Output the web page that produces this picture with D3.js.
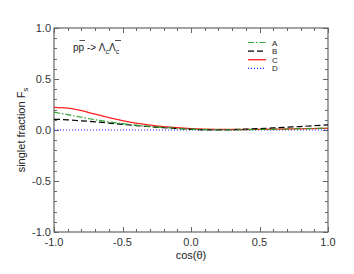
<!DOCTYPE html>
<html>
<head>
<meta charset="utf-8">
<script src="https://cdn.jsdelivr.net/npm/d3@7"></script>
<style>
body { margin: 0; background: #fff; }
text { font-family: "Liberation Sans", Arial, sans-serif; }
</style>
</head>
<body>
<svg width="354" height="274"></svg>
<script>
// data
var cosTheta = [-1, -0.9, -0.8, -0.7, -0.6, -0.5, -0.4, -0.3, -0.2, -0.1, 0, 0.1, 0.2, 0.3, 0.4, 0.5, 0.6, 0.7, 0.8, 0.9, 1]
var seriesA = [0.175, 0.15, 0.125, 0.1, 0.08, 0.062, 0.047, 0.035, 0.025, 0.016, 0.009, 0.004, 0.002, 0.002, 0.003, 0.005, 0.007, 0.01, 0.013, 0.016, 0.02]
var seriesB = [0.105, 0.1, 0.09, 0.08, 0.068, 0.055, 0.043, 0.032, 0.022, 0.014, 0.007, 0.002, 0.001, 0.003, 0.008, 0.014, 0.02, 0.027, 0.034, 0.042, 0.05]
var seriesC = [0.222, 0.215, 0.19, 0.155, 0.122, 0.093, 0.068, 0.048, 0.033, 0.022, 0.014, 0.009, 0.006, 0.005, 0.005, 0.006, 0.008, 0.01, 0.012, 0.014, 0.016]
var seriesD = [0, 0, 0, 0, 0, 0, 0, 0, 0, 0, 0, 0, 0, 0, 0, 0, 0, 0, 0, 0, 0]
var names = ['A', 'B', 'C', 'D']
var xTicks = [-1, -0.5, 0, 0.5, 1]
var yTicks = [-1, -0.5, 0, 0.5, 1]

var styles = {
    A: {color: '#2ca02c', dash: '6,2,1.5,2', width: 1.2},
    B: {color: '#000', dash: '6,3', width: 1.2},
    C: {color: '#ff2020', dash: null, width: 1.3},
    D: {color: '#2020ff', dash: '1,2', width: 1.2}
}
var allSeries = {A: seriesA, B: seriesB, C: seriesC, D: seriesD}

var L = 54, R = 328, T = 28, B = 232
var svg = d3.select('svg')
var x = d3.scaleLinear().domain([-1, 1]).range([L, R])
var y = d3.scaleLinear().domain([-1, 1]).range([B, T])
var axisCol = '#666'

// minor ticks every 0.1
var minor = d3.range(-1, 1.0001, 0.1)
var ticks = svg.append('g').attr('stroke', axisCol).attr('stroke-width', 1)
minor.forEach(function(v) {
    var major = xTicks.some(function(t) { return Math.abs(t - v) < 1e-6 })
    var len = major ? 5 : 3
    var px = Math.round(x(v)) + 0.5
    var py = Math.round(y(v)) + 0.5
    ticks.append('line').attr('x1', px).attr('x2', px).attr('y1', B).attr('y2', B - len)
    ticks.append('line').attr('x1', px).attr('x2', px).attr('y1', T).attr('y2', T + len)
    ticks.append('line').attr('y1', py).attr('y2', py).attr('x1', L).attr('x2', L + len)
    ticks.append('line').attr('y1', py).attr('y2', py).attr('x1', R).attr('x2', R - len)
})
svg.append('rect').attr('x', L).attr('y', T).attr('width', R - L).attr('height', B - T)
    .attr('fill', 'none').attr('stroke', axisCol).attr('stroke-width', 1.2)

// plain hyphen for negatives, like the original
var fmt = function(v) { return d3.format('.1f')(v).replace('\u2212', '-') }
xTicks.forEach(function(v) {
    svg.append('text').attr('x', x(v)).attr('y', B + 14).attr('text-anchor', 'middle')
	.attr('font-size', 11).attr('fill', '#333').text(fmt(v))
})
yTicks.forEach(function(v) {
    svg.append('text').attr('x', L - 3).attr('y', y(v) + 4).attr('text-anchor', 'end')
	.attr('font-size', 11).attr('fill', '#333').text(fmt(v))
})

svg.append('text').attr('x', (L + R) / 2).attr('y', B + 27).attr('text-anchor', 'middle')
    .attr('font-size', 11).attr('fill', '#222').text('cos(θ)')
var yl = svg.append('text').attr('transform', 'translate(25,' + ((T + B) / 2) + ') rotate(-90)')
    .attr('text-anchor', 'middle').attr('font-size', 11).attr('fill', '#222')
yl.append('tspan').text('singlet fraction F')
yl.append('tspan').attr('font-size', 8).attr('dy', 3).text('s')

// reaction label
var ann = svg.append('text').attr('x', 73).attr('y', 51).attr('font-size', 10).attr('fill', '#222')
ann.append('tspan').text('pp -> Λ')
ann.append('tspan').attr('font-size', 7).attr('dy', 3).text('c')
ann.append('tspan').attr('dy', -3).text('Λ')
ann.append('tspan').attr('font-size', 7).attr('dy', 3).text('c')
// overbars
svg.append('line').attr('x1', 79.5).attr('x2', 85).attr('y1', 40.5).attr('y2', 40.5).attr('stroke', '#222').attr('stroke-width', 0.8)
svg.append('line').attr('x1', 115).attr('x2', 121).attr('y1', 40.5).attr('y2', 40.5).attr('stroke', '#222').attr('stroke-width', 0.8)

var line = d3.line().x(function(d, i) { return x(cosTheta[i]) }).y(function(d) { return y(d) }).curve(d3.curveMonotoneX)
var plot = svg.append('g')
names.slice().reverse().forEach(function(n) {
    var s = styles[n]
    plot.append('path').datum(allSeries[n]).attr('d', line).attr('fill', 'none')
	.attr('stroke', s.color).attr('stroke-width', s.width)
	.attr('stroke-dasharray', s.dash)
})

// legend
names.forEach(function(n, i) {
    var s = styles[n]
    var ly = 42.5 + i * 8.6
    svg.append('line').attr('x1', 248).attr('x2', 266).attr('y1', ly).attr('y2', ly)
	.attr('stroke', s.color).attr('stroke-width', s.width).attr('stroke-dasharray', s.dash)
    svg.append('text').attr('x', 272).attr('y', ly + 3).attr('font-size', 8).attr('fill', '#222').text(n)
})
</script>
</body>
</html>
